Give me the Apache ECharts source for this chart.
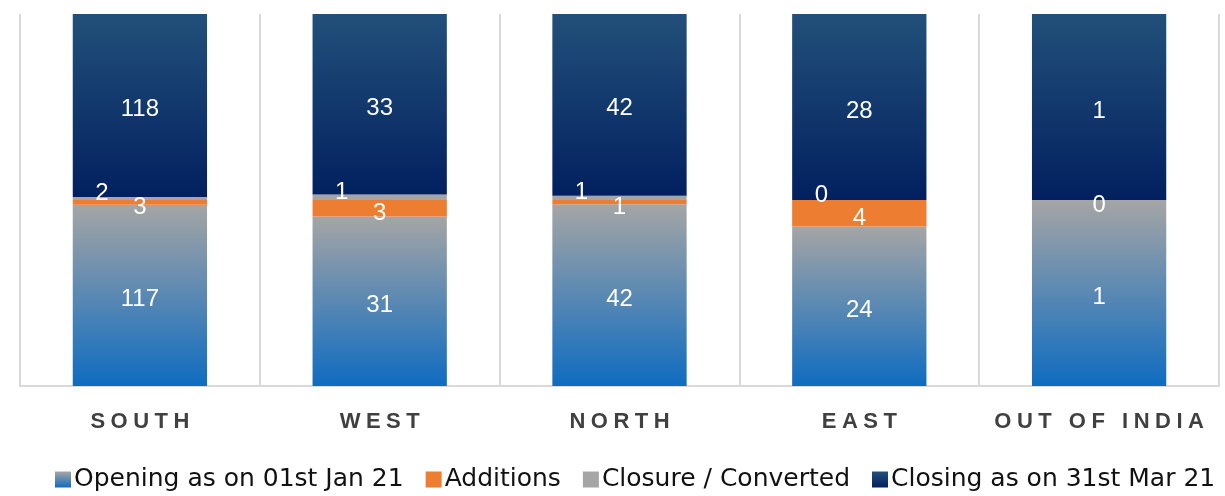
<!DOCTYPE html>
<html>
<head>
<meta charset="utf-8">
<script src="https://cdn.jsdelivr.net/npm/echarts@6/dist/echarts.min.js"></script>
<style>
  html, body { margin: 0; padding: 0; background: #fff; }
  #chart { width: 1225px; height: 496px; }
</style>
</head>
<body>
<div id="chart"></div>
<script>
  // data
  var regions = ['SOUTH', 'WEST', 'NORTH', 'EAST', 'OUT OF INDIA'];
  var opening = [117, 31, 42, 24, 1];
  var additions = [3, 3, 1, 4, 0];
  var closure = [2, 1, 1, 0, 0];
  var closing = [118, 33, 42, 28, 1];

  var names = ['Opening as on 01st Jan 21', 'Additions', 'Closure / Converted', 'Closing as on 31st Mar 21'];

  // 100% stacked: share of each region's total
  var totals = regions.map(function (r, i) {
    return opening[i] + additions[i] + closure[i] + closing[i];
  });
  function pct(arr) {
    return arr.map(function (v, i) { return v / totals[i] * 100; });
  }
  function rawLabel(arr) {
    return function (p) { return arr[p.dataIndex]; };
  }

  var labelBase = {
    show: true,
    color: '#fff',
    fontFamily: 'Liberation Sans',
    fontSize: 24,
    offset: [0, 4]
  };

  var myChart = echarts.init(document.getElementById('chart'));

  var option = {
    animation: false,
    grid: { left: 20, right: 6, top: 14, bottom: 110, containLabel: false },
    legend: {
      top: 462,
      left: 50,
      itemWidth: 16,
      itemHeight: 16,
      itemGap: 22,
      icon: 'rect',
      textStyle: { fontFamily: 'DejaVu Sans', fontSize: 25, color: '#111', padding: [0, 0, 0, -2] },
      data: names
    },
    xAxis: {
      type: 'category',
      data: regions,
      axisLine: { lineStyle: { color: '#d9d9d9', width: 2 } },
      axisTick: { show: false },
      splitLine: { show: true, interval: 0, lineStyle: { color: '#d9d9d9', width: 2 } },
      axisLabel: {
        interval: 0,
        margin: 25,
        fontFamily: 'Liberation Sans',
        fontWeight: 'bold',
        fontSize: 22,
        color: '#404040',
        // letter-spaced caps like the original
        formatter: function (v) { return v.split('').join('\u2005'); }
      }
    },
    yAxis: {
      type: 'value',
      min: 0,
      max: 100,
      show: false,
      splitLine: { show: false }
    },
    series: [
      {
        name: names[0],
        type: 'bar',
        stack: 'all',
        barWidth: '56%',
        data: pct(opening),
        itemStyle: {
          color: new echarts.graphic.LinearGradient(0, 0, 0, 1, [
            { offset: 0, color: '#a5a5a5' },
            { offset: 1, color: '#0f6cc0' }
          ])
        },
        label: Object.assign({}, labelBase, { formatter: rawLabel(opening) })
      },
      {
        name: names[1],
        type: 'bar',
        stack: 'all',
        data: pct(additions),
        itemStyle: { color: '#ed7d31' },
        label: Object.assign({}, labelBase, { offset: [0, 5], formatter: rawLabel(additions) })
      },
      {
        name: names[2],
        type: 'bar',
        stack: 'all',
        data: pct(closure),
        itemStyle: { color: '#a5a5a5' },
        label: Object.assign({}, labelBase, {
          offset: [-38, -5],
          // when both small segments are empty only one label shows
          formatter: function (p) {
            var i = p.dataIndex;
            return (closure[i] === 0 && additions[i] === 0) ? '' : closure[i];
          }
        })
      },
      {
        name: names[3],
        type: 'bar',
        stack: 'all',
        data: pct(closing),
        itemStyle: {
          color: new echarts.graphic.LinearGradient(0, 0, 0, 1, [
            { offset: 0, color: '#22507a' },
            { offset: 1, color: '#02205f' }
          ])
        },
        label: Object.assign({}, labelBase, { formatter: rawLabel(closing) })
      }
    ]
  };

  myChart.setOption(option);
  window.addEventListener('resize', function () { myChart.resize(); });
</script>
</body>
</html>
